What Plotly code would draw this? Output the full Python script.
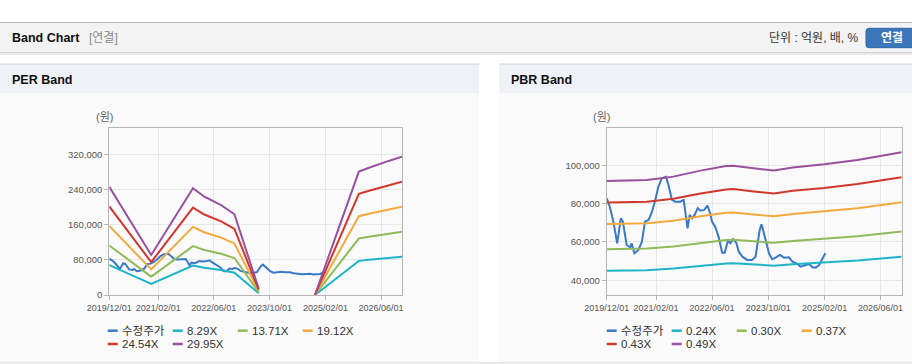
import plotly.graph_objects as go

W, H = 912, 364

# ---------------- data ----------------
price_name = "수정주가"
price_dates = [
    "2019-12-01", "2019-12-28", "2020-01-28", "2020-02-21", "2020-03-01", "2020-03-16",
    "2020-04-01", "2020-04-19", "2020-05-07", "2020-05-22", "2020-06-22", "2020-07-04",
    "2020-07-28", "2020-09-01", "2020-10-01", "2020-10-28", "2020-11-28", "2020-12-28",
    "2021-01-25", "2021-02-21", "2021-03-22", "2021-04-28", "2021-05-19", "2021-06-19",
    "2021-07-16", "2021-08-28", "2021-09-28", "2021-10-22", "2021-11-01", "2021-11-19",
    "2021-12-10", "2022-01-01", "2022-01-28", "2022-02-21", "2022-03-25", "2022-04-22",
    "2022-05-16", "2022-06-01", "2022-06-28", "2022-07-28", "2022-08-28", "2022-09-19",
    "2022-10-16", "2022-11-07", "2022-12-01", "2022-12-28", "2023-01-19", "2023-02-19",
    "2023-04-01", "2023-05-13", "2023-06-13", "2023-07-01", "2023-07-19", "2023-08-04",
    "2023-08-22", "2023-09-16", "2023-10-07", "2023-11-04", "2023-12-04", "2024-01-10",
    "2024-02-16", "2024-03-28", "2024-04-28", "2024-06-10", "2024-07-07", "2024-08-22",
    "2024-09-19", "2024-10-19", "2024-11-16", "2024-12-16", "2025-01-13", "2025-02-07",
]
price = [
    82800, 78400, 70600, 62700, 59300, 65400,
    72300, 70600, 63600, 58400, 57200, 59300,
    54100, 55800, 60100, 70600, 71500, 75800,
    81900, 88800, 93200, 94000, 89700, 81900,
    81000, 81000, 81900, 72300, 67100, 74100,
    72300, 74100, 77600, 76300, 76700, 78900,
    75000, 70600, 68000, 62700, 54400, 54400,
    60500, 59300, 61400, 59600, 54900, 52300,
    50600, 50600, 52300, 59300, 66200, 69200,
    65400, 59300, 54100, 51000, 51800, 53200,
    51800, 52000, 49700, 48500, 47100, 48000,
    48500, 46800, 46600, 48000, 51500, 54100,
]

# EPS used for the PER band (None = negative / not drawn)
eps_dates = [
    "2019-12-01", "2020-12-01", "2021-12-01", "2022-03-10", "2022-08-04", "2022-11-28",
    "2023-06-28", "2024-01-01", "2024-11-01", "2025-11-19", "2026-02-16", "2026-05-25",
    "2026-08-07", "2026-12-01",
]
eps = [8230, 3050, 8120, 7480, 6845, 6145, 490, None, 20, 9390, 9683, 9950, 10204, 10531]
per_mult = [8.29, 13.71, 19.12, 24.54, 29.95]
per_names = ["8.29X", "13.71X", "19.12X", "24.54X", "29.95X"]

# BPS used for the PBR band
bps_dates = [
    "2019-12-01", "2020-11-13", "2021-07-01", "2022-02-21", "2022-10-01", "2022-12-01",
    "2023-05-28", "2023-11-19", "2024-05-01", "2025-01-28", "2025-11-13", "2026-12-01",
]
bps = [187300, 188400, 192000, 198400, 203300, 203700, 200800, 198400, 201600, 205100, 209800, 218000]
pbr_mult = [0.24, 0.30, 0.37, 0.43, 0.49]
pbr_names = ["0.24X", "0.30X", "0.37X", "0.43X", "0.49X"]

x_tickvals = ["2019-12-01", "2021-02-01", "2022-06-01", "2023-10-01", "2025-02-01", "2026-06-01"]
x_ticktext = ["2019/12/01", "2021/02/01", "2022/06/01", "2023/10/01", "2025/02/01", "2026/06/01"]
x_range = ["2019-12-01", "2026-12-01"]
per_yticks = [0, 80000, 160000, 240000, 320000]
pbr_yticks = [40000, 60000, 80000, 100000]

# ---------------- style ----------------
price_color = "#3a78c8"
band_colors = ["#1db4c8", "#8fbb58", "#f3a93c", "#d3362c", "#9a4f9f"]
FONT = "Liberation Sans, Noto Sans CJK KR, sans-serif"


def px(x):
    return x / W


def py(y):
    return 1 - y / H


fig = go.Figure()

# PER traces
fig.add_trace(go.Scatter(x=price_dates, y=price, mode="lines", name=price_name,
                         line=dict(color=price_color, width=2), xaxis="x", yaxis="y",
                         showlegend=False))
for m, n, c in zip(per_mult, per_names, band_colors):
    fig.add_trace(go.Scatter(x=eps_dates, y=[None if e is None else e * m for e in eps],
                             mode="lines", name=n, line=dict(color=c, width=2),
                             xaxis="x", yaxis="y", showlegend=False))
# PBR traces
fig.add_trace(go.Scatter(x=price_dates, y=price, mode="lines", name=price_name,
                         line=dict(color=price_color, width=2), xaxis="x2", yaxis="y2",
                         showlegend=False))
for m, n, c in zip(pbr_mult, pbr_names, band_colors):
    fig.add_trace(go.Scatter(x=bps_dates, y=[b * m for b in bps],
                             mode="lines", name=n, line=dict(color=c, width=2),
                             xaxis="x2", yaxis="y2", showlegend=False))

axis_common = dict(showgrid=True, gridcolor="#e7e7e7", gridwidth=1, showline=True, mirror=True,
                   linecolor="#b5b5b5", linewidth=1, ticks="outside", ticklen=4,
                   tickcolor="#b5b5b5", zeroline=False, automargin=False,
                   tickfont=dict(family=FONT, size=9.5, color="#555555"))
xaxis_extra = dict(tickangle=0, tickfont=dict(family=FONT, size=9, color="#555555"))

P1 = (109.3, 402.0)
P2 = (606.7, 901.7)
TOP, BOT = 128.3, 295.0

fig.update_layout(
    width=W, height=H, margin=dict(l=0, r=0, t=0, b=0, pad=0, autoexpand=False),
    paper_bgcolor="#ffffff", plot_bgcolor="#ffffff",
    xaxis=dict(domain=[px(P1[0]), px(P1[1])], type="date", range=x_range,
               tickvals=x_tickvals, ticktext=x_ticktext, anchor="y",
               **{**axis_common, **xaxis_extra}),
    yaxis=dict(domain=[py(BOT), py(TOP)], range=[0, 380000], tickvals=per_yticks,
               tickformat=",", anchor="x", **axis_common),
    xaxis2=dict(domain=[px(P2[0]), px(P2[1])], type="date", range=x_range,
                tickvals=x_tickvals, ticktext=x_ticktext, anchor="y2",
                **{**axis_common, **xaxis_extra}),
    yaxis2=dict(domain=[py(BOT), py(TOP)], range=[32300, 119300], tickvals=pbr_yticks,
                tickformat=",", anchor="x2", **axis_common),
)

shapes = []
ann = []


def rect(x0, y0, x1, y1, fill, line=None, layer="below"):
    shapes.append(dict(type="rect", xref="paper", yref="paper", x0=px(x0), x1=px(x1),
                       y0=py(y1), y1=py(y0), fillcolor=fill, layer=layer,
                       line=dict(width=0) if line is None else dict(color=line, width=1)))


def hline(x0, x1, y, color, width=1, layer="below"):
    shapes.append(dict(type="line", xref="paper", yref="paper", x0=px(x0), x1=px(x1),
                       y0=py(y), y1=py(y), line=dict(color=color, width=width), layer=layer))


def text(x, y, s, size=12, color="#222", bold=False, xanchor="left"):
    ann.append(dict(x=px(x), y=py(y), xref="paper", yref="paper", text=f"<b>{s}</b>" if bold else s,
                    showarrow=False, xanchor=xanchor, yanchor="middle", borderpad=0,
                    font=dict(family=FONT, size=size, color=color)))


# header bar
rect(0, 22.5, W, 52.5, "#f3f3f3")
hline(0, W, 22.5, "#b9b9b9")
hline(0, W, 52.8, "#c4c4c4")
hline(0, W, 54, "#e4e4e4", 1.5)
text(11, 38, "Band Chart", size=12.5, color="#111", bold=True)
text(88, 38, "[연결]", size=12, color="#8a8a8a")
text(860, 38, "단위 : 억원, 배, %", size=12, color="#333", xanchor="right")
# button
bx0, by0, bx1, by1, r = 866, 28.3, 914, 47.7, 3
shapes.append(dict(type="path", xref="paper", yref="paper", layer="below",
                   path=(f"M {px(bx0+r)},{py(by0)} L {px(bx1)},{py(by0)} L {px(bx1)},{py(by1)} "
                         f"L {px(bx0+r)},{py(by1)} Q {px(bx0)},{py(by1)} {px(bx0)},{py(by1-r)} "
                         f"L {px(bx0)},{py(by0+r)} Q {px(bx0)},{py(by0)} {px(bx0+r)},{py(by0)} Z"),
                   fillcolor="#3a76b9", line=dict(color="#2f66a5", width=1)))
text(891.5, 38, "연결", size=12, color="#ffffff", bold=True, xanchor="center")

# panels
for (x0, x1, title, yl_x) in [(0, 479, "PER Band", 104), (499.3, W, "PBR Band", 601)]:
    rect(x0, 64, x1, 93, "#eef1f6")
    rect(x0, 93, x1, 362.5, "#fafafa")
    hline(x0, x1, 64, "#d3d3d3")
    text(x0 + 11, 80, title, size=12.5, color="#111", bold=True)
    text(yl_x, 117, "(원)", size=11, color="#666", xanchor="center")
hline(0, W, 362.8, "#d9d9d9")

# manual legends
legend_names_per = [price_name] + per_names
legend_names_pbr = [price_name] + pbr_names
legend_colors = [price_color] + band_colors
for lx, names in [(107.7, legend_names_per), (606.7, legend_names_pbr)]:
    for i, (n, c) in enumerate(zip(names, legend_colors)):
        col, row = i % 4, i // 4
        x0 = lx + col * 65
        y0 = 330.7 + row * 13.3
        hline(x0, x0 + 10, y0, c, 2.5, layer="above")
        text(x0 + 13, y0, n, size=11.5, color="#333")

fig.update_layout(shapes=shapes, annotations=ann)
fig.write_html("out.html", config={"displayModeBar": False},
               post_script="document.body.style.margin='0px';document.body.style.padding='0px';")
